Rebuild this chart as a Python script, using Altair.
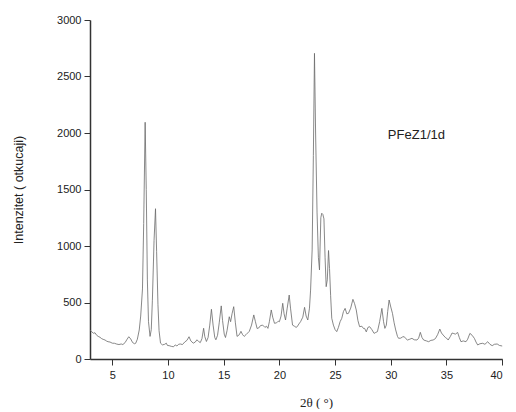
import altair as alt
import pandas as pd

two_theta = [
    3.0, 3.15, 3.3, 3.45, 3.6, 3.74, 3.9, 4.05, 4.18, 4.35, 4.5, 4.62, 4.8, 5.0, 5.2, 5.4, 5.6, 5.8, 5.95,
    6.15, 6.3, 6.48, 6.65, 6.83, 7.0, 7.1, 7.25, 7.42, 7.55, 7.71, 7.82, 7.95, 8.05, 8.15, 8.25, 8.39,
    8.5, 8.6, 8.75, 8.88, 8.98, 9.1, 9.2, 9.33, 9.5, 9.7, 9.85, 9.95, 10.1, 10.3, 10.5, 10.65, 10.8,
    10.95, 11.1, 11.3, 11.5, 11.7, 11.89, 12.05, 12.27, 12.45, 12.6, 12.75, 12.9, 13.05, 13.2, 13.3,
    13.45, 13.6, 13.75, 13.9, 14.05, 14.2, 14.3, 14.45, 14.6, 14.78, 14.9, 15.05, 15.16, 15.3, 15.5,
    15.62, 15.75, 15.9, 16.05, 16.2, 16.4, 16.55, 16.7, 16.84, 17.0, 17.15, 17.3, 17.5, 17.7, 17.85,
    18.0, 18.15, 18.3, 18.5, 18.7, 18.85, 18.97, 19.1, 19.27, 19.4, 19.56, 19.75, 19.9, 20.0, 20.15,
    20.3, 20.42, 20.55, 20.7, 20.88, 21.0, 21.18, 21.35, 21.5, 21.6, 21.75, 21.9, 22.1, 22.26, 22.4,
    22.55, 22.7, 22.8, 22.94, 23.05, 23.15, 23.25, 23.38, 23.5, 23.6, 23.72, 23.8, 23.9, 24.0, 24.1,
    24.2, 24.3, 24.41, 24.5, 24.6, 24.7, 24.85, 25.0, 25.15, 25.3, 25.45, 25.6, 25.75, 25.9, 26.05,
    26.2, 26.4, 26.6, 26.75, 26.9, 27.05, 27.2, 27.4, 27.55, 27.65, 27.8, 27.95, 28.1, 28.3, 28.5,
    28.65, 28.8, 29.0, 29.2, 29.35, 29.47, 29.6, 29.72, 29.85, 30.0, 30.15, 30.3, 30.44, 30.6, 30.7,
    30.9, 31.05, 31.2, 31.35, 31.5, 31.7, 31.9, 32.1, 32.35, 32.5, 32.65, 32.8, 32.95, 33.2, 33.4,
    33.6, 33.8, 34.0, 34.2, 34.4, 34.55, 34.7, 34.9, 35.0, 35.15, 35.35, 35.5, 35.6, 35.8, 36.0,
    36.15, 36.3, 36.5, 36.75, 36.9, 37.1, 37.3, 37.5, 37.65, 37.8, 38.0, 38.25, 38.45, 38.7, 38.9,
    39.1, 39.3, 39.55, 39.75, 40.0,
]

intensity = [
    255, 242, 228, 232, 210, 200, 192, 180, 174, 168, 158, 153, 150, 140, 139, 132, 128, 133, 128,
    145, 170, 197, 178, 145, 135, 139, 175, 257, 380, 620, 1200, 2095, 1500, 700, 330, 200,
    260, 520, 1050, 1330, 950, 480, 250, 140, 125, 130, 140, 120, 118, 112, 108, 125, 115,
    130, 133, 128, 150, 165, 197, 160, 140, 150, 170, 155, 145, 180, 272, 200,
    155, 190, 300, 440, 300, 190, 170, 210, 320, 470, 340, 220, 190, 250, 374,
    330, 400, 463, 320, 200, 215, 245, 215, 200, 215, 230, 245, 300, 390, 330,
    270, 275, 295, 300, 280, 290, 271, 330, 434, 370, 316, 320, 335, 330, 380,
    493, 400, 345, 450, 566, 450, 300, 290, 280, 286, 310, 330, 370, 457, 380,
    345, 450, 610, 965, 1800, 2705, 2000, 1300, 900, 788, 1250, 1290, 1280, 1240, 900,
    640, 700, 960, 800, 560, 360, 300, 260, 242, 280, 330, 360, 420, 448, 400,
    404, 450, 528, 490, 434, 340, 286, 290, 270, 271, 240, 280, 286, 260, 227,
    235, 242, 330, 448, 330, 271, 300, 420, 522, 460, 404, 320, 257, 200, 183,
    185, 195, 198, 180, 168, 175, 183, 170, 168, 185, 236, 190, 168, 160, 153,
    165, 168, 180, 215, 265, 230, 212, 190, 185, 168, 200, 230, 227, 220, 235,
    190, 153, 160, 153, 175, 227, 210, 183, 150, 124, 135, 139, 130, 153, 130,
    118, 130, 133, 120, 115,
]

x_ticks = [2.5 * i for i in range(2, 17)]
y_ticks = [250 * i for i in range(0, 13)]

label_text = ["PFeZ1/1d"]
label_x = [32.3]
label_y = [1985]

df = pd.DataFrame({"t": two_theta, "i": intensity})
lab = pd.DataFrame({"text": label_text, "x": label_x, "y": label_y})

x_scale = alt.Scale(domain=[3, 40], nice=False, zero=False)
y_scale = alt.Scale(domain=[0, 3000], nice=False)

x_axis = alt.Axis(
    values=x_ticks,
    labelExpr="datum.value % 5 === 0 ? datum.label : ''",
    tickSize={"condition": {"test": "datum.value % 5 !== 0", "value": 3}, "value": 6},
    title="2θ ( °)",
    titleFont="Liberation Serif",
    titleFontSize=13,
    titleFontWeight="normal",
    titleX=226,
    titleY=43,
    titleAlign="center",
    titleBaseline="middle",
    labelPadding=4,
    grid=False,
)

y_axis = alt.Axis(
    values=y_ticks,
    labelExpr="datum.value % 500 === 0 ? datum.label : ''",
    tickSize={"condition": {"test": "datum.value % 500 !== 0", "value": 3}, "value": 6},
    title="Intenzitet  ( otkucaji)",
    titleFont="Liberation Sans",
    titleFontSize=12.5,
    titleFontWeight="normal",
    titleX=-72,
    titleY=169.5,
    titleAngle=270,
    titleAlign="center",
    titleBaseline="middle",
    labelPadding=3,
    format="d",
    grid=False,
)

line = alt.Chart(df).mark_line(color="#6a6a6a", strokeWidth=0.8).encode(
    x=alt.X("t:Q", scale=x_scale, axis=x_axis),
    y=alt.Y("i:Q", scale=y_scale, axis=y_axis),
)

text = alt.Chart(lab).mark_text(
    font="Liberation Sans", fontSize=13, color="#222", align="center", baseline="middle"
).encode(
    x=alt.X("x:Q", scale=x_scale),
    y=alt.Y("y:Q", scale=y_scale),
    text="text:N",
)

chart = (
    alt.layer(line, text)
    .properties(
        width=412.2,
        height=339,
        autosize=alt.AutoSizeParams(type="none"),
        padding={"left": 82, "top": 12, "right": 5.8, "bottom": 50},
        background="white",
    )
    .configure_view(stroke=None)
    .configure_axis(
        domainColor="#333",
        domainWidth=1.5,
        tickColor="#333",
        tickWidth=1,
        labelFont="Liberation Sans",
        labelFontSize=11,
        labelColor="#222",
        titleColor="#222",
    )
)

chart.save("out.html", embed_options={"renderer": "svg", "actions": False})
